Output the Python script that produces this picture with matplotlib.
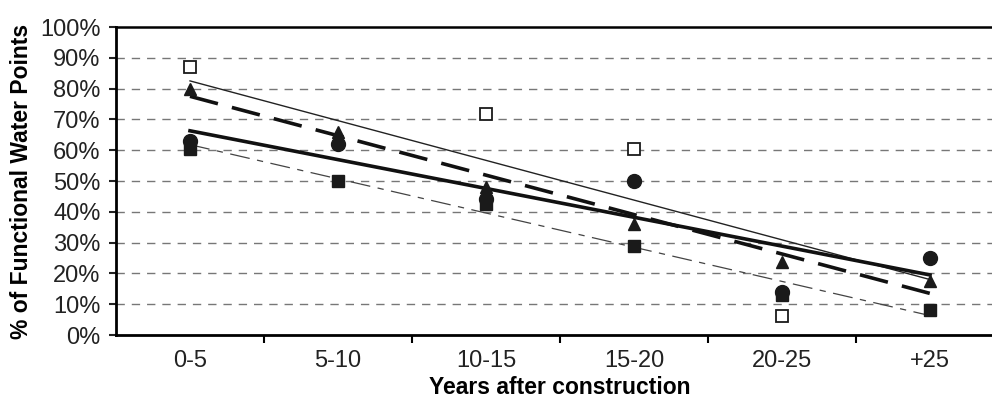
import matplotlib
matplotlib.use("Agg")
import matplotlib.pyplot as plt
from matplotlib.ticker import FixedLocator, PercentFormatter

plt.rcParams['font.family'] = ['Liberation Sans', 'DejaVu Sans']

categories = ["0-5", "5-10", "10-15", "15-20", "20-25", "+25"]

# open squares (only the visible points)
open_sq_x = [0, 2, 3, 4]
open_sq_y = [87, 71.7, 60.4, 6.2]
triangles = [80, 66, 48, 36, 23.7, 17.5]
circles = [63, 62, 44, 50, 14, 25]
filled_sq = [60.5, 50, 42.5, 29, 13, 8]

# trend lines, value at first and last category
trend_open = [82.5, 18]
trend_tri = [77.5, 13.5]
trend_circ = [66.3, 19.5]
trend_fsq = [61.8, 6.3]

fig = plt.figure(figsize=(9.92, 4.0), dpi=100)
ax = fig.add_axes([116 / 992, 65 / 400, 888 / 992, 308 / 400])

x = list(range(len(categories)))
ends = [0, len(categories) - 1]

ax.plot(ends, trend_open, color="#222222", lw=1.0, zorder=2)
ax.plot(ends, trend_tri, color="#111111", lw=2.6, dashes=(8, 4), zorder=2)
ax.plot(ends, trend_circ, color="#111111", lw=2.6, zorder=2)
ax.plot(ends, trend_fsq, color="#444444", lw=0.9, dashes=(16, 6, 5, 6), zorder=2)

ax.plot(x, circles, "o", color="#1a1a1a", ms=10, zorder=3)
ax.plot(x, filled_sq, "s", color="#1a1a1a", ms=8, zorder=3)
ax.plot(x, triangles, "^", color="#1a1a1a", ms=9, zorder=4)
ax.plot(open_sq_x, open_sq_y, "s", mfc="white", mec="#1a1a1a", mew=1.3, ms=8, zorder=4)

ax.set_xlim(-0.5, len(categories) - 0.5)
ax.set_ylim(0, 100)

ax.set_yticks(range(0, 101, 10))
ax.yaxis.set_major_formatter(PercentFormatter(decimals=0))
for yv in range(10, 100, 10):
    ax.axhline(yv, color="#777777", lw=1.0, dashes=(6, 5), zorder=1)

ax.set_xticks(x)
ax.set_xticklabels(categories)
ax.xaxis.set_minor_locator(FixedLocator([i + 0.5 for i in range(len(categories) - 1)]))
ax.tick_params(axis="x", which="major", length=0, pad=11, labelsize=17, colors="#222222")
ax.tick_params(axis="x", which="minor", length=6, width=1.5, direction="out")
ax.tick_params(axis="y", length=5, width=1.5, direction="out", labelsize=17, pad=6, colors="#222222")

for s in ["left", "bottom"]:
    ax.spines[s].set_linewidth(2)
ax.spines["top"].set_linewidth(1.8)
ax.spines["right"].set_visible(False)

ax.set_xlabel("Years after construction", fontsize=16.5, fontweight="bold", labelpad=3)
ax.set_ylabel("% of Functional Water Points", fontsize=16.5, fontweight="bold", labelpad=5)

fig.savefig("out.png", dpi=100)
